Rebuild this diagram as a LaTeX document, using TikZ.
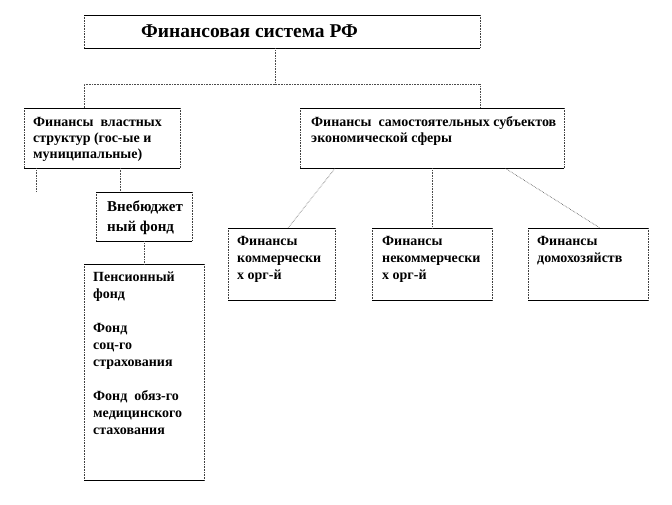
\documentclass[tikz,border=0pt]{standalone}
\usepackage{fontspec}
\setmainfont{Liberation Serif}
\newcommand\topln{\rule{0pt}{10pt}}
\begin{document}
\begin{tikzpicture}[x=1pt,y=-1pt,
 boxv/.style={draw=black!75, densely dotted, line width=0.6pt},
 boxh/.style={draw=black, line width=0.8pt},
 conn/.style={draw=black!70, densely dotted, line width=0.6pt},
 frame/.style={inner sep=0pt, anchor=north west},
 txt/.style={anchor=north west, inner sep=0pt, align=left, font=\bfseries\fontsize{14}{16}\selectfont},
 txtb/.style={txt, font=\bfseries\fontsize{14}{17}\selectfont}]
\useasboundingbox[fill=white] (0,0) rectangle (672,504);
% frames
\node[frame, minimum width=396pt, minimum height=33pt] (top) at (84,15) {};
\node[frame, minimum width=156pt, minimum height=60pt] (gov) at (24,108) {};
\node[frame, minimum width=264pt, minimum height=60pt] (bus) at (300,108) {};
\node[frame, minimum width=96pt, minimum height=49pt] (vneb) at (96,192) {};
\node[frame, minimum width=120pt, minimum height=216pt] (pens) at (84,264) {};
\node[frame, minimum width=107pt, minimum height=72pt] (comm) at (228,228) {};
\node[frame, minimum width=120pt, minimum height=72pt] (noncomm) at (372,228) {};
\node[frame, minimum width=120pt, minimum height=72pt] (house) at (528,228) {};
\foreach \n in {top,gov,bus,vneb,pens,comm,noncomm,house}{
  \draw[boxv] (\n.north west) -- (\n.south west) (\n.north east) -- (\n.south east);
  \draw[boxh] (\n.north west) -- (\n.north east) (\n.south west) -- (\n.south east);
}
% texts
\node[anchor=base west, inner sep=0pt, font=\bfseries\fontsize{19.5}{22}\selectfont] (ttop) at (141,37) {Финансовая система РФ};
\node[txt] (tgov) at (33,116) {\topln Финансы\ \ властных\\структур (гос-ые и\\муниципальные)};
\node[txt] (tbus) at (311,116) {\topln Финансы\ \ самостоятельных субъектов\\экономической сферы};
\node[anchor=north west, inner sep=0pt, align=left, font=\bfseries\fontsize{15}{20}\selectfont] (tvneb) at (107,200) {\rule{0pt}{11pt}Внебюджет\\ный фонд};
\node[txtb] (tpens) at (93,271) {\topln Пенсионный\\фонд\\[17pt]Фонд\\соц-го\\страхования\\[17pt]Фонд\ \ обяз-го\\медицинского\\стахования};
\node[txtb] (tcomm) at (237,235) {\topln Финансы\\коммерчески\\х орг-й};
\node[txtb] (tnoncomm) at (382,235) {\topln Финансы\\некоммерчески\\х орг-й};
\node[txtb] (thouse) at (537,235) {\topln Финансы\\домохозяйств};
% connectors
\coordinate (hj) at (275,84);
\coordinate (dang) at (36,192);
\coordinate (gv) at (120,168);
\draw[conn] (hj |- top.south) -- (hj);
\draw[conn] (gov.north -| top.west) |- (hj) -| (bus.north -| top.east);
\draw[conn] (gov.south -| dang) -- (dang);
\draw[conn] (gv) -- (gv |- vneb.north);
\draw[conn] (vneb.south) -- (pens.north);
\draw[conn] ([xshift=35pt]bus.south west) -- ([xshift=60pt]comm.north west);
\draw[conn] (bus.south) -- (noncomm.north);
\draw[conn] ([xshift=-59pt]bus.south east) -- ([xshift=72pt]house.north west);
\end{tikzpicture}
\end{document}
